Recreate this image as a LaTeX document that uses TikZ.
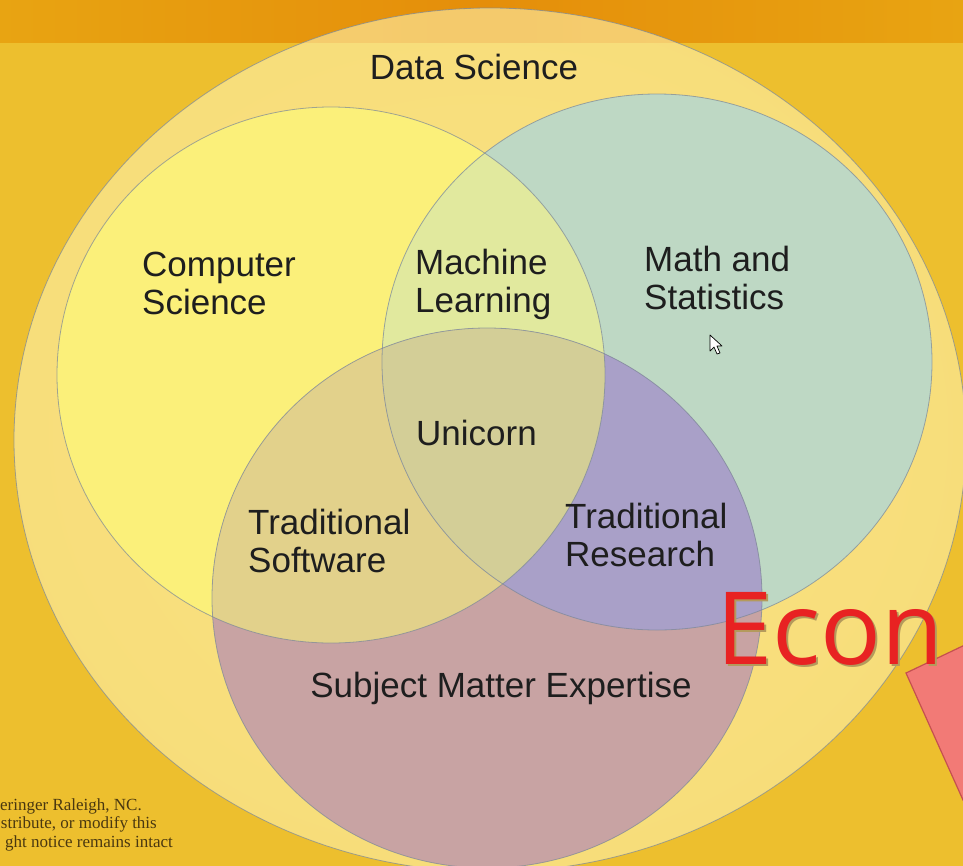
\documentclass[tikz,border=0pt]{standalone}
\usepackage{fontspec}
\setmainfont{Liberation Sans}
\newfontfamily\notefont{Liberation Serif}
\newfontfamily\econfont{Open Sans}
\usepackage{xcolor}
\usetikzlibrary{positioning}

% Colours of the slide
\definecolor{bgyellow}{HTML}{EDBF2E}
\definecolor{bglight}{HTML}{F2CF45}
\definecolor{bgorange}{HTML}{E8A412}
\definecolor{bgdeep}{HTML}{E58E0A}
\definecolor{dsfill}{HTML}{FFF2AE}
\definecolor{rim}{HTML}{7A8799}
\definecolor{cscol}{HTML}{FBF07A}
\definecolor{mathcol}{HTML}{BED8C4}
\definecolor{smecol}{HTML}{C8A3A3}
\definecolor{mlcol}{HTML}{E1E99E}
\definecolor{tswcol}{HTML}{E2D18B}
\definecolor{trcol}{HTML}{A9A0C8}
\definecolor{unicol}{HTML}{D3CE97}
\definecolor{inktext}{HTML}{1E1E1E}
\definecolor{notetext}{HTML}{4A3810}
\definecolor{econred}{HTML}{E82222}
\definecolor{econshade}{HTML}{B49A5C}
\definecolor{tilefill}{HTML}{F27A76}
\definecolor{tilerim}{HTML}{C55050}

% The three sets, as paths
\newcommand{\cspath}{(331,375) circle [x radius=274, y radius=268]}
\newcommand{\mathpath}{(657,362) circle [x radius=275, y radius=268]}
\newcommand{\smepath}{(487,598) circle [x radius=275, y radius=270]}
% Word with a drop shadow under it
\newcommand{\shadedword}[1]{\makebox[0pt][l]{\hspace{2.5pt}\raisebox{-2.5pt}{\color{econshade}#1}}#1}

\begin{document}
\begin{tikzpicture}[
    % GLOBAL CFG
    x=1pt, y=-1pt,
    font=\fontsize{35}{38}\selectfont,
    % Styles
    setrim/.style={% For the outlines of the sets
        draw=rim,
        line width=.8pt,
        opacity=.7,
        },
    setlabel/.style={% For the names inside the sets
        text=inktext,
        align=left,
        inner sep=0pt,
        },
    econlabel/.style={% For the big red word
        font=\econfont\fontsize{101}{101}\selectfont,
        inner sep=0pt,
        anchor=base west,
        },
    notelabel/.style={% For the cut notice at the bottom
        font=\notefont\fontsize{17}{19}\selectfont,
        text=notetext,
        inner sep=0pt,
        anchor=base east,
        },
    ]

    % Slide background
    \useasboundingbox (0,0) rectangle (963,865);
    \clip (0,0) rectangle (963,865);
    \shade[inner color=bglight, outer color=bgyellow] (0,0) rectangle (963,865);
    \shade[left color=bgorange, right color=bgorange, middle color=bgdeep] (0,0) rectangle (963,42);

    % Draw the Data Science set
    \fill[dsfill, opacity=.6] (490,440) circle [x radius=476, y radius=432];
    \draw[setrim] (490,440) circle [x radius=476, y radius=432];

    % Draw the three sets
    \fill[cscol] \cspath;
    \fill[mathcol] \mathpath;
    \fill[smecol] \smepath;

    % Overlaps
    \begin{scope}
        \clip \cspath;
        \fill[mlcol] \mathpath;
        \fill[tswcol] \smepath;
    \end{scope}
    \begin{scope}
        \clip \mathpath;
        \fill[trcol] \smepath;
    \end{scope}
    \begin{scope}
        \clip \cspath;
        \clip \mathpath;
        \fill[unicol] \smepath;
    \end{scope}

    % Outlines on top
    \draw[setrim] \cspath;
    \draw[setrim] \mathpath;
    \draw[setrim] \smepath;

    % Labels named by set
    \node[setlabel] (ds) at (474,67) {Data Science};
    \node[setlabel, anchor=west] (cs) at (142,283) {Computer\\Science};
    \node[setlabel, anchor=west] (ml) at (415,284) {Machine\\Learning};
    \node[setlabel, anchor=west] (ms) at (644,278) {Math and\\Statistics};
    \node[setlabel, anchor=west] (uni) at (416,433) {Unicorn};
    \node[setlabel, anchor=west] (tsw) at (248,541) {Traditional\\Software};
    \node[setlabel, anchor=west] (tr) at (565,535) {Traditional\\Research};
    \node[setlabel] (sme) at (501,688) {Subject Matter Expertise};

    % Tile at the lower right
    \filldraw[fill=tilefill, draw=tilerim, line width=1.2pt]
        (906,673) -- (990,633) -- (1040,760) -- (963,800) -- cycle;

    % Econ
    \node[econlabel, text=econred] (econ) at (716,664) {\shadedword{Econ}};

    % Mouse pointer
    \filldraw[fill=white, draw=black, line width=.7pt, line join=round]
        (710,335) -- (710,351) -- (714,347) -- (717,354) -- (720,353) -- (717,346) -- (722,346) -- cycle;

    % Notice, cut at the left edge
    \node[notelabel] (note1) at (142,810) {eringer Raleigh, NC.};
    \node[notelabel] (note2) at (157,828) {stribute, or modify this};
    \node[notelabel] (note3) at (173,847) {ght notice remains intact};

\end{tikzpicture}
\end{document}
